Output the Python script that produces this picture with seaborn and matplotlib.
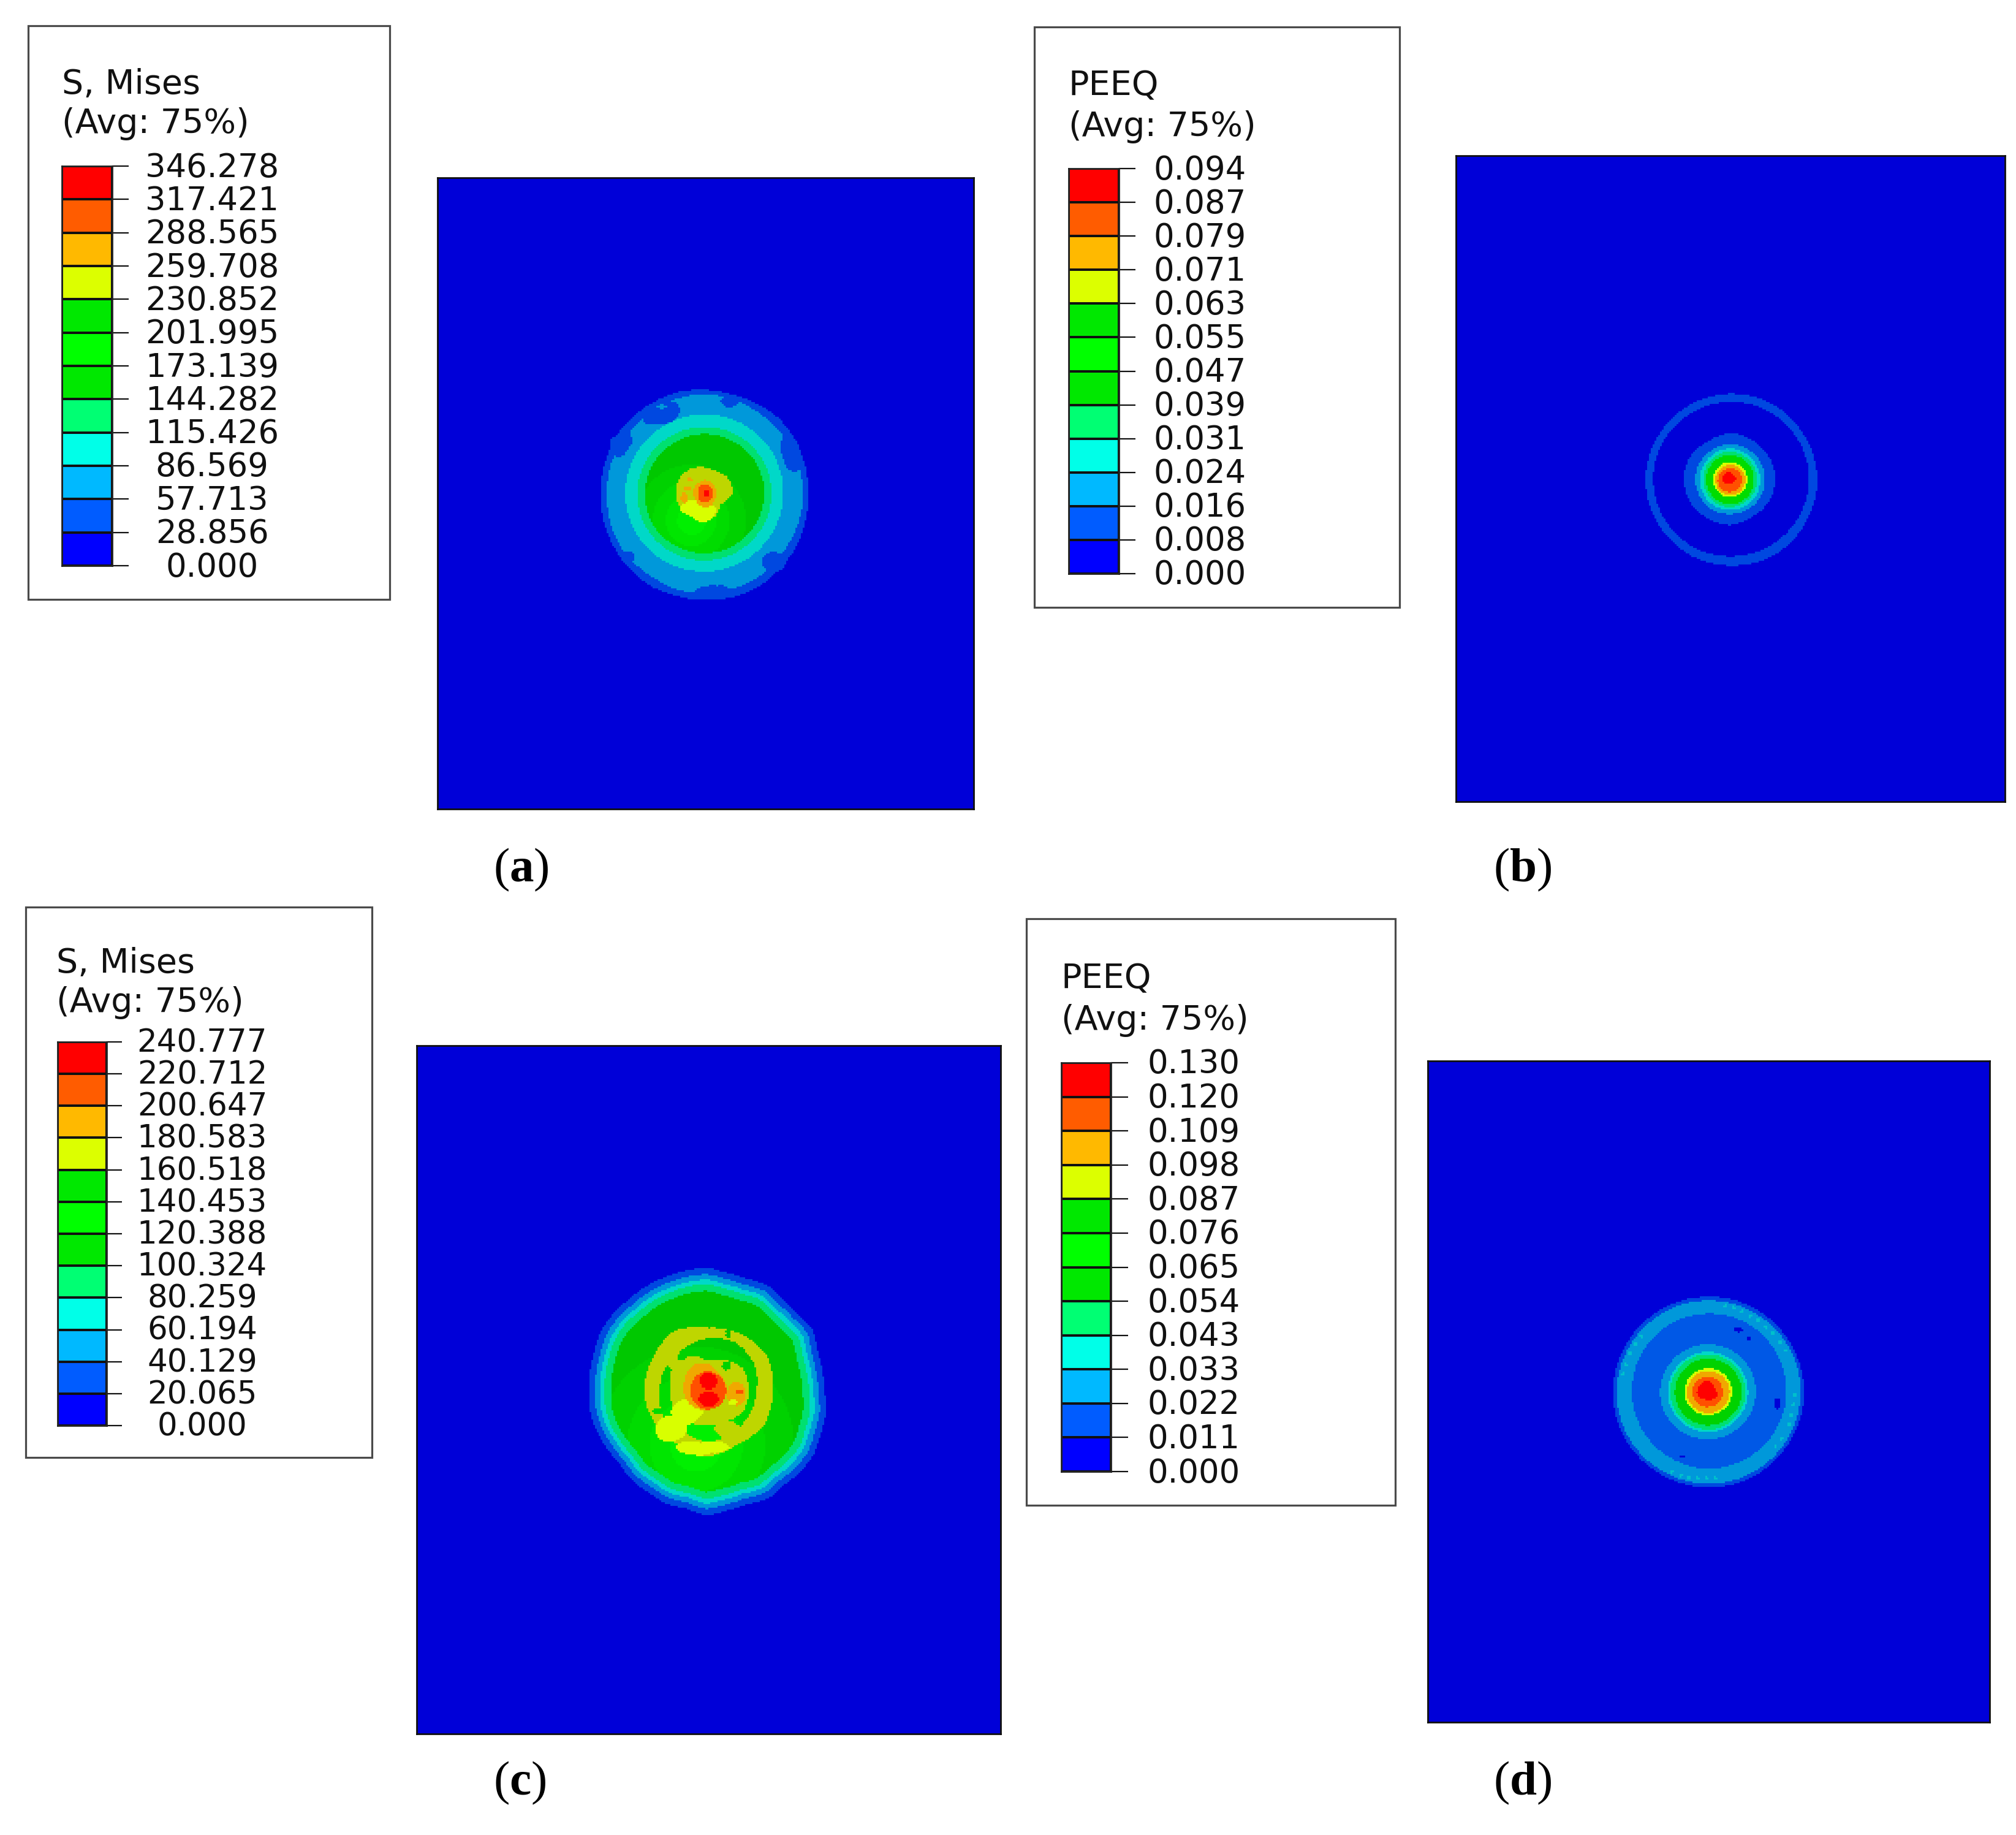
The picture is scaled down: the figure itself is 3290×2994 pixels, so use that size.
import numpy as np
import matplotlib
matplotlib.use("Agg")
import matplotlib.pyplot as plt
from matplotlib.colors import ListedColormap
from matplotlib.patches import Rectangle
from matplotlib.transforms import ScaledTranslation
import seaborn as sns

sns.set_theme(style="white")
plt.rcParams["font.family"] = ["DejaVu Sans"]
plt.rcParams["mathtext.fontset"] = "custom"
plt.rcParams["mathtext.bf"] = "Liberation Serif:bold"
plt.rcParams["mathtext.rm"] = "Liberation Serif"

W, H, DPI = 3291, 2994, 100
PX = 72 / DPI

# ---------- legend data ----------
TITLE_A = ["S, Mises", "(Avg: 75%)"]
TITLE_B = ["PEEQ", "(Avg: 75%)"]
TICKS_A = ["346.278", "317.421", "288.565", "259.708", "230.852", "201.995", "173.139",
           "144.282", "115.426", "86.569", "57.713", "28.856", "0.000"]
TICKS_B = ["0.094", "0.087", "0.079", "0.071", "0.063", "0.055", "0.047",
           "0.039", "0.031", "0.024", "0.016", "0.008", "0.000"]
TICKS_C = ["240.777", "220.712", "200.647", "180.583", "160.518", "140.453", "120.388",
           "100.324", "80.259", "60.194", "40.129", "20.065", "0.000"]
TICKS_D = ["0.130", "0.120", "0.109", "0.098", "0.087", "0.076", "0.065",
           "0.054", "0.043", "0.033", "0.022", "0.011", "0.000"]
LEGEND_COLORS = ["#FF0000", "#FF5C00", "#FFB900", "#DCFF00", "#00E800", "#00FF00",
                 "#00E800", "#00FF73", "#00FFE8", "#00B9FF", "#005CFF", "#0000FF"]

# ---------- contour field palette (shaded plate colours) ----------
FIELD_COLORS = ["#0000D8", "#0048E0", "#0098DA", "#00D8C8", "#00E070", "#00C800", "#00D200",
                "#00DC00", "#00E600", "#00F000", "#BED600", "#D8FF00", "#F0A800", "#FF5000",
                "#FF0000", "#0058E6", "#00C0CC"]
BG, DK, LB, CY, SP, G1, G2, G3, G4, G5, OL, YE, OR, RO, RD, MB, ST = range(17)
GREENS = [G1, G2, G3, G4, G5]

# Contour regions, painted in order:
# (centre x, centre y, radii at equal angles clockwise from east, band)
REGIONS_A = [
    (660, 620, [510, 512, 518, 516, 522, 518, 515, 512, 518, 515, 512, 510,
                510, 512, 514, 518, 516, 518, 512, 508, 514, 522, 520, 514], DK),
    (660, 618, [485, 482, 478, 480, 484, 482, 480, 484, 478, 480, 484, 482,
                478, 482, 480, 478, 484, 486, 490, 484, 480, 478, 482, 484], LB),
    (440, 228, [95, 70, 50, 48, 55, 85, 88, 65, 48, 55, 75, 105], DK),
    (450, 190, [25, 12, 10, 12, 25, 12, 10, 12], LB),
    (790, 160, [45, 35, 30, 40, 50, 30, 28, 32], DK),
    (1085, 425, [45, 60, 90, 65, 40, 45, 60, 100, 75, 45], DK),
    (255, 365, [55, 40, 55, 80, 60, 60, 45, 45, 90, 55], DK),
    (1000, 950, [60, 50, 45, 50, 55, 55, 50, 55], DK),
    (700, 1092, [100, 40, 32, 40, 85, 35, 28, 38], DK),
    (285, 925, [30, 25, 30, 30], DK),
    (660, 612, [388, 385, 384, 382, 386, 388, 390, 386, 384, 384, 386, 388], CY),
    (660, 615, [330, 328, 326, 325, 328, 330, 330, 328, 326, 325, 328, 330], SP),
    (660, 615, [295, 292, 290, 290, 292, 294, 292, 290, 290, 290, 292, 295], G1),
    (650, 610, [150, 107, 130, 125, 118, 132, 132, 133, 130, 123, 122, 145], OL),
    (625, 690, [95, 85, 75, 55, 45, 50, 90, 70, 50, 40, 50, 70], YE),
    (665, 612, [54, 56, 66, 68, 64, 60, 60, 60, 60, 62, 58, 54], OR),
    (585, 548, [15, 8, 12, 8], OR),
    (577, 588, [22, 8, 20, 8], OR),
    (560, 635, [15, 25, 15, 25], OR),
    (665, 614, [38, 44, 38, 46], RO),
    (670, 613, [14, 14, 14, 14], RD),
    # lighting on the green band
    (595, 745, [270, 270, 270, 270], G2),
    (595, 745, [190, 190, 190, 190], G3),
    (595, 745, [125, 125, 125, 125], G4),
    (595, 745, [70, 70, 70, 70], G5),
]

REGIONS_B = [
    (558, 487, [422, 420, 424, 418, 420, 418, 422, 418, 418, 420, 420, 418], DK),
    (558, 484, [382, 378, 376, 376, 380, 382, 384, 382, 378, 376, 378, 380], BG),
    (550, 482, [225, 222, 215, 225, 220, 225, 226, 222, 210, 222, 218, 220], DK),
    (552, 485, [170, 172, 170, 168, 172, 170, 172, 170, 168, 170, 170, 172], LB),
    (552, 485, [148, 150, 148, 148, 150, 150, 150, 148, 148, 150, 148, 148], CY),
    (552, 485, [132, 134, 132, 134, 134, 132, 132, 134, 134, 136, 132, 132], SP),
    (552, 486, [118, 120, 118, 120, 120, 118, 118, 118, 118, 118, 118, 118], G1),
    (552, 486, [84, 84, 84, 84, 84, 84, 84, 84, 84, 84, 84, 84], YE),
    (553, 487, [75, 73, 74, 73, 74, 75, 74, 73, 73, 73, 73, 74], OR),
    (550, 488, [60, 58, 58, 57, 58, 60, 60, 58, 56, 57, 58, 60], RO),
    (545, 480, [38, 32, 24, 24, 26, 32, 32, 30, 30, 30, 28, 24], RD),
    (552, 486, [200, 200, 200, 200], G3),
]

# outer edge of panel (c), every 10 degrees clockwise from east
C_OUTER = [580, 595, 597, 610, 605, 594, 604, 585, 590, 605, 580, 582,
           568, 567, 554, 560, 571, 579, 575, 579, 584, 595, 595, 589,
           593, 595, 600, 605, 588, 585, 600, 585, 587, 604, 580, 577]
C_LB = [r * 0.948 for r in C_OUTER]
C_CY = [r * 0.905 for r in C_OUTER]
C_SP = [r * 0.868 for r in C_OUTER]
C_GR = [r * 0.812 for r in C_OUTER]

REGIONS_C = [
    (670, 690, C_OUTER, DK),
    (670, 690, C_LB, LB),
    (670, 690, C_CY, CY),
    (670, 690, C_SP, SP),
    (670, 690, C_GR, G1),
    # olive ring
    (680, 690, [315, 318, 292, 315, 300, 305, 315, 318, 340, 310, 322, 335], OL),
    # green between ring and centre
    (680, 690, [235, 230, 230, 245, 228, 255, 240, 242, 242, 260, 273, 262], G1),
    (490, 870, [85, 75, 65, 65, 70, 70, 68, 66, 65, 60, 65, 80], YE),
    (640, 960, [150, 60, 45, 42, 45, 65, 130, 55, 28, 22, 28, 50], YE),
    (778, 405, [10, 28, 10, 25], G1),
    (430, 785, [26, 14, 26, 14], G1),
    # inner blob and bridges to the ring
    (670, 680, [210, 210, 180, 175, 180, 185, 180, 195, 190, 140, 165, 205], OL),
    (510, 545, [45, 50, 45, 45, 35, 35, 35, 50, 55, 55, 50, 45], OL),
    (770, 870, [70, 55, 50, 45, 50, 50, 60, 50, 40, 40, 40, 50], OL),
    (570, 790, [85, 65, 62, 60, 60, 65, 75, 70, 65, 60, 65, 75], YE),
    (545, 520, [25, 15, 22, 15], G1),
    (770, 565, [22, 22, 22, 22], G1),
    (670, 680, [102, 100, 95, 96, 105, 110, 112, 120, 135, 128, 105, 98], OR),
    (680, 685, [88, 88, 90, 92, 92, 90, 90, 92, 94, 92, 88, 88], RO),
    (680, 640, [45, 40, 45, 40], RD),
    (680, 725, [52, 35, 50, 35], RD),
    (820, 700, [42, 58, 48, 55], OR),
    (800, 742, [22, 12, 22, 12], YE),
    (830, 690, [20, 10, 15, 12], RO),
    # lighting on the green band
    (620, 950, [480, 480, 480, 480], G2),
    (620, 950, [340, 340, 340, 340], G3),
    (620, 950, [230, 230, 230, 230], G4),
    (620, 950, [130, 130, 130, 130], G5),
]

D_STREAK_X = [650, 690, 730, 770, 810, 850, 880, 915, 945, 235, 205, 180, 160, 148,
              988, 985, 975, 960, 925, 895, 385, 430, 470, 510, 555, 600]
D_STREAK_Y = [122, 130, 150, 172, 195, 225, 255, 300, 340, 270, 310, 355, 410, 455,
              560, 610, 660, 705, 775, 812, 935, 955, 965, 970, 970, 968]

REGIONS_D = [
    (566, 545, [470, 468, 470, 468, 468, 470, 468, 468, 468, 468, 470, 468], DK),
    (567, 546, [452, 450, 450, 450, 450, 452, 452, 450, 450, 450, 450, 452], LB),
    (569, 540, [380, 380, 380, 382, 380, 380, 379, 380, 380, 380, 382, 380], MB),
    (563, 544, [236, 235, 234, 234, 236, 236, 236, 234, 234, 234, 235, 236], LB),
    (563, 545, [198, 198, 198, 198, 198, 198, 198, 198, 198, 198, 198, 198], CY),
    (563, 545, [186, 186, 186, 186, 186, 186, 186, 186, 186, 186, 186, 186], SP),
    (565, 545, [167, 165, 165, 165, 165, 165, 165, 165, 165, 165, 165, 165], G1),
    (565, 544, [118, 118, 116, 116, 118, 118, 118, 118, 116, 116, 118, 118], YE),
    (565, 545, [106, 105, 105, 105, 105, 106, 106, 105, 105, 105, 105, 106], OR),
    (562, 544, [76, 76, 76, 76, 76, 76, 76, 76, 76, 76, 76, 76], RO),
    (558, 542, [50, 56, 50, 42, 44, 50, 50, 46, 50, 54, 48, 44], RD),
    (710, 238, [26, 10, 22, 10], BG),
    (765, 280, [14, 8, 14, 8], BG),
    (905, 605, [14, 28, 14, 28], BG),
    (437, 862, [10, 8, 10, 8], BG),
    (565, 545, [200, 200, 200, 200], G2),
] + [(sx, sy, [9, 9, 9, 9], ST) for sx, sy in zip(D_STREAK_X, D_STREAK_Y)]

# ---------- layout, full-size reference pixels ----------
PANELS = [
    dict(box=(46, 42, 636, 978), bar=(101, 271, 183, 923), tick_end=210, label_c=346,
         title=TITLE_A, title_x=101, title_y=(138, 202), ticks=TICKS_A, fs=38,
         plate=(714, 290, 1589, 1320), origin=(930, 600), regions=REGIONS_A,
         cap="($\\mathbf{a}$)", cap_xy=(850, 1419)),
    dict(box=(1688, 44, 2284, 991), bar=(1744, 275, 1826, 936), tick_end=1853, label_c=1958,
         title=TITLE_B, title_x=1744, title_y=(140, 207), ticks=TICKS_B, fs=38,
         plate=(2376, 254, 3272, 1308), origin=(2640, 620), regions=REGIONS_B,
         cap="($\\mathbf{b}$)", cap_xy=(2485, 1419)),
    dict(box=(42, 1480, 607, 2378), bar=(94, 1700, 174, 2326), tick_end=199, label_c=330,
         title=TITLE_A, title_x=92, title_y=(1572, 1636), ticks=TICKS_C, fs=37,
         plate=(680, 1706, 1633, 2829), origin=(930, 2040), regions=REGIONS_C,
         cap="($\\mathbf{c}$)", cap_xy=(848, 2909)),
    dict(box=(1675, 1499, 2277, 2456), bar=(1732, 1734, 1813, 2401), tick_end=1841, label_c=1948,
         title=TITLE_B, title_x=1732, title_y=(1597, 1665), ticks=TICKS_D, fs=38,
         plate=(2330, 1731, 3247, 2810), origin=(2600, 2090), regions=REGIONS_D,
         cap="($\\mathbf{d}$)", cap_xy=(2485, 2909)),
]

CELL = 3


def field_from_regions(plate, origin, regions):
    x0, y0, x1, y1 = plate
    xs = np.arange(x0 + CELL / 2, x1, CELL)
    ys = np.arange(y0 + CELL / 2, y1, CELL)
    X, Y = np.meshgrid(xs, ys)
    U, V = (X - origin[0]) * 3, (Y - origin[1]) * 3
    f = np.zeros_like(U, dtype=int)
    for cx, cy, radii, band in regions:
        dx, dy = U - cx, V - cy
        n = len(radii)
        ang = np.arange(n) * 2 * np.pi / n
        th = np.mod(np.arctan2(dy, dx), 2 * np.pi)
        R = np.interp(th, ang, radii, period=2 * np.pi)
        mask = np.hypot(dx, dy) <= R
        if band in GREENS[1:]:          # lighting only recolours the green band
            mask &= np.isin(f, GREENS)
        f[mask] = band
    return f


def axes_px(fig, x0, y0, x1, y1):
    return fig.add_axes([x0 / W, 1 - y1 / H, (x1 - x0) / W, (y1 - y0) / H])


fig = plt.figure(figsize=(W / DPI, H / DPI), dpi=DPI, facecolor="white")
bg = fig.add_axes([0, 0, 1, 1])
bg.set_xlim(0, W)
bg.set_ylim(H, 0)
bg.axis("off")

field_cmap = ListedColormap(FIELD_COLORS)
legend_cmap = ListedColormap(LEGEND_COLORS)
label_shift = ScaledTranslation(0, -2.5 / DPI, fig.dpi_scale_trans)

for p in PANELS:
    x0, y0, x1, y1 = p["box"]
    bg.add_patch(Rectangle((x0, y0), x1 - x0, y1 - y0, fc="white", ec="#4a4a4a", lw=3.2 * PX))
    for line, y in zip(p["title"], p["title_y"]):
        bg.text(p["title_x"], y, line, fontsize=40, ha="left", va="center", color="#111111")
    bg.text(*p["cap_xy"], p["cap"], family="Liberation Serif", fontsize=57, ha="center",
            va="center", color="black")

    # colour bar
    bx0, by0, bx1, by1 = p["bar"]
    ax = axes_px(fig, bx0, by0, bx1, by1)
    sns.heatmap(np.arange(12).reshape(-1, 1), ax=ax, cmap=legend_cmap, vmin=-0.5, vmax=11.5,
                cbar=False, linewidths=1.6, linecolor="#111111", xticklabels=False, yticklabels=False)
    ax.yaxis.tick_right()
    ax.set_yticks(np.arange(13))
    ax.set_yticklabels(p["ticks"], rotation=0, ha="center", va="center", fontsize=p["fs"], color="#111111")
    ax.tick_params(axis="y", which="major", left=False, right=True,
                   length=(p["tick_end"] - bx1) * PX, width=1.6, color="#111111",
                   pad=(p["label_c"] - p["tick_end"]) * PX)
    for lbl in ax.get_yticklabels():
        lbl.set_transform(lbl.get_transform() + label_shift)
    for s in ax.spines.values():
        s.set_visible(True)
        s.set_color("#222222")
        s.set_linewidth(2.0)

    # contour plate
    px0, py0, px1, py1 = p["plate"]
    ax = axes_px(fig, px0, py0, px1, py1)
    f = field_from_regions(p["plate"], p["origin"], p["regions"])
    sns.heatmap(f, ax=ax, cmap=field_cmap, vmin=-0.5, vmax=16.5, cbar=False,
                xticklabels=False, yticklabels=False, rasterized=True)
    for s in ax.spines.values():
        s.set_visible(True)
        s.set_color("#101010")
        s.set_linewidth(2.0)

fig.savefig("out.png", dpi=DPI, facecolor="white")
